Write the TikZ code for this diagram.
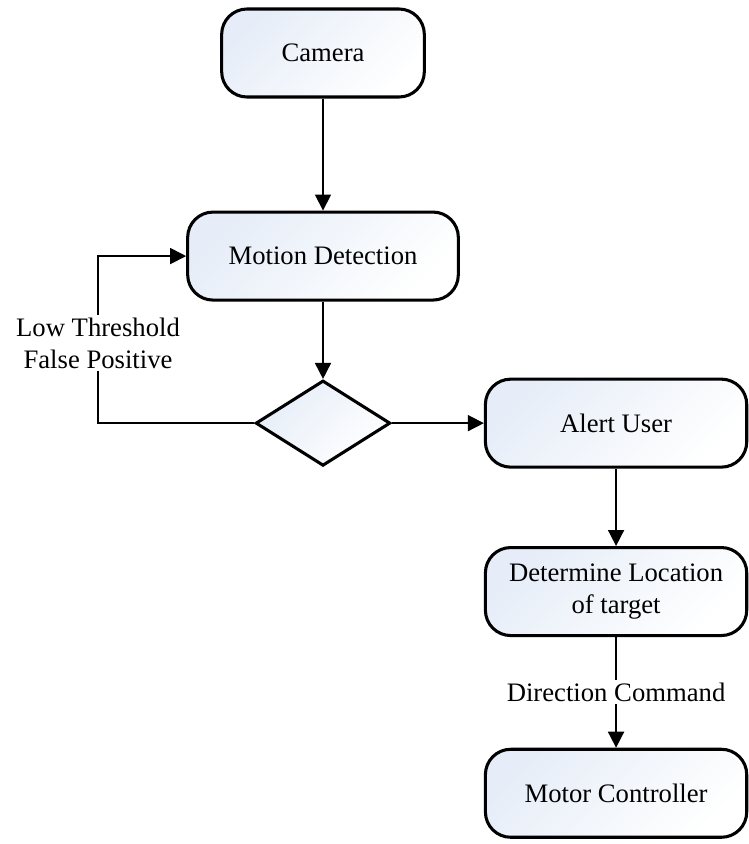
\documentclass[tikz,border=0pt]{standalone}
\usepackage{fontspec}
\setmainfont{Liberation Serif}
\usepackage{xcolor}
\usepackage{tikz}
\usetikzlibrary{positioning,arrows.meta,shapes.geometric}

\definecolor{boxtop}{HTML}{E6EDF8}

\begin{document}
\begin{tikzpicture}[
		x=0.75pt,y=-0.75pt,
		font=\fontsize{20}{24}\selectfont,
		box/.style={draw,line width=2.3pt,rounded corners=19pt,minimum height=66pt,minimum width=196pt,align=center,top color=boxtop,bottom color=white,shading angle=45},
		dec/.style={draw,diamond,line width=2.3pt,inner sep=0pt,minimum width=101pt,minimum height=64pt,top color=boxtop,bottom color=white,shading angle=45},
		lbl/.style={fill=white,align=center,inner sep=2pt},
		ar/.style={-{Triangle[length=12pt,width=12pt]},line width=1.3pt}
		]

		\useasboundingbox (0,0) rectangle (749,844);

		\node[box,minimum width=152pt] (cam) at (323,53) {Camera};
		\node[box,minimum width=203pt,below=84pt of cam] (motion) {Motion Detection};
		\node[dec,below=58pt of motion] (check) {};
		\node[box,right=69pt of check] (alert) {Alert User};
		\node[box,below=58pt of alert] (locate) {Determine Location\\of target};
		\node[box,below=83pt of locate] (motor) {Motor Controller};
		\coordinate (back) at (98,257);

		\draw[ar] (cam)--(motion);
		\draw[ar] (motion)--(check);
		\draw[ar] (check.west) -| (back) node[lbl,pos=0.74] {Low Threshold\\False Positive} |- (motion.west);
		\draw[ar] (check)--(alert);
		\draw[ar] (alert)--(locate);
		\draw[ar] (locate)--(motor) node[lbl,midway] {Direction Command};

	\end{tikzpicture}
\end{document}
